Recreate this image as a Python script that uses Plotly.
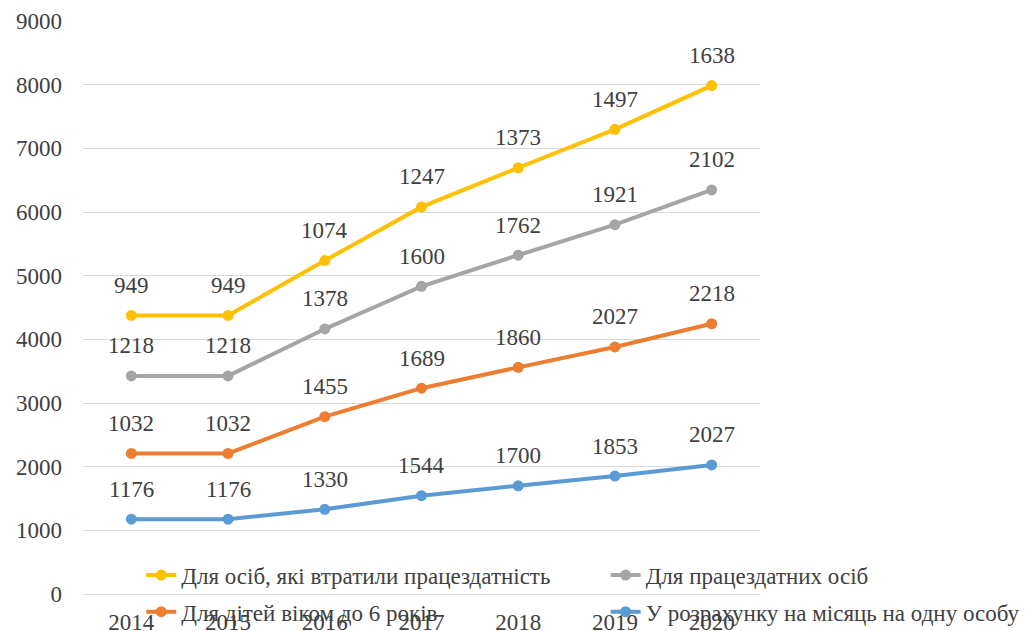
import plotly.graph_objects as go
import numpy as np

years = ['2014', '2015', '2016', '2017', '2018', '2019', '2020']

# values per series (chart is stacked, labels show own values)
per_person = [1176, 1176, 1330, 1544, 1700, 1853, 2027]
children = [1032, 1032, 1455, 1689, 1860, 2027, 2218]
able = [1218, 1218, 1378, 1600, 1762, 1921, 2102]
disabled = [949, 949, 1074, 1247, 1373, 1497, 1638]

names = ['У розрахунку на місяць на одну особу', 'Для дітей віком до 6 років',
         'Для працездатних осіб', 'Для осіб, які втратили працездатність']
colors = ['#5B9BD5', '#ED7D31', '#A5A5A5', '#FFC000']
series = [per_person, children, able, disabled]
legends = ['legend4', 'legend3', 'legend2', 'legend']

FONT = '"Liberation Serif", "Times New Roman", "DejaVu Serif", serif'
TXT = '#404040'
FS = 23

fig = go.Figure()
for s, n, c, lg in zip(series, names, colors, legends):
    fig.add_trace(go.Scatter(
        x=years, y=s, name=n, stackgroup='one', fill='none',
        mode='lines+markers', line=dict(color=c, width=4),
        marker=dict(size=11, color=c), legend=lg,
        hoverinfo='skip'
    ))

# data labels above stacked points (x given as category index)
cum = np.cumsum(np.array(series), axis=0)
for s, top in zip(series, cum):
    for i, (v, t) in enumerate(zip(s, top)):
        fig.add_annotation(x=i, y=float(t), xref='x', yref='y', text=str(v),
                           showarrow=False, yshift=30,
                           font=dict(family=FONT, size=FS, color=TXT))


def leg(x, y):
    return dict(orientation='h', xanchor='left', yanchor='middle', x=x, y=y,
                font=dict(family=FONT, size=FS, color=TXT),
                bgcolor='rgba(0,0,0,0)')


# page body adds an 8px offset, margins account for it
fig.update_layout(
    width=1034, height=631, autosize=False,
    margin=dict(l=75, r=282, t=13, b=45, autoexpand=False),
    plot_bgcolor='white', paper_bgcolor='white',
    font=dict(family=FONT, size=FS, color=TXT),
    showlegend=True,
    legend=leg(0.086, 0.033),
    legend2=leg(0.772, 0.033),
    legend3=leg(0.086, -0.031),
    legend4=leg(0.772, -0.031),
    xaxis=dict(type='category', range=[-0.5, 6.5], showgrid=False, showline=False,
               ticks='', automargin=False, ticklabelstandoff=12,
               tickfont=dict(family=FONT, size=FS, color=TXT)),
    yaxis=dict(range=[0, 9000], dtick=1000, gridcolor='#D9D9D9', gridwidth=1,
               zeroline=True, zerolinecolor='#D9D9D9', zerolinewidth=1,
               showline=False, ticks='', ticklabelstandoff=20, automargin=False,
               tickfont=dict(family=FONT, size=FS, color=TXT)),
)

fig.write_html("out.html")
